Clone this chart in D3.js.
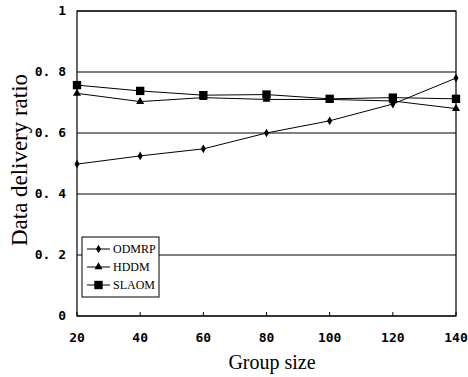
<!DOCTYPE html>
<html>
<head>
<meta charset="utf-8">
<script src="https://cdn.jsdelivr.net/npm/d3@7"></script>
<style>
  body { margin: 0; background: #fff; }
  svg { display: block; }
  .tick-label { font-family: "DejaVu Sans Mono", monospace; font-weight: bold; font-size: 13px; }
  .axis-title { font-family: "Liberation Serif", serif; }
  .legend-text { font-family: "Liberation Serif", serif; font-size: 12px; }
</style>
</head>
<body>
<div id="chart"></div>
<script>
// Group sizes along the bottom
var groupSizes = [20, 40, 60, 80, 100, 120, 140];

// Data delivery ratio per protocol
var odmrp = [0.498, 0.525, 0.548, 0.600, 0.640, 0.695, 0.780];
var hddm  = [0.730, 0.703, 0.716, 0.710, 0.710, 0.705, 0.680];
var slaom = [0.757, 0.738, 0.724, 0.726, 0.712, 0.716, 0.712];

var seriesNames = ["ODMRP", "HDDM", "SLAOM"];
var yTicks = [0, 0.2, 0.4, 0.6, 0.8, 1];

var width = 468, height = 377;
// plot box edges (note: "top" is taken by window.top)
var plotLeft = 77, plotRight = 456, plotTop = 11, plotBottom = 316;

var svg = d3.select("#chart").append("svg")
  .attr("width", width)
  .attr("height", height);

var xScale = d3.scaleLinear().domain([20, 140]).range([plotLeft, plotRight]);
var yScale = d3.scaleLinear().domain([0, 1]).range([plotBottom, plotTop]);

// gridlines
svg.append("g").selectAll("line").data(yTicks).enter()
  .append("line")
  .attr("x1", plotLeft).attr("x2", plotRight)
  .attr("y1", function(d) { return yScale(d); })
  .attr("y2", function(d) { return yScale(d); })
  .attr("stroke", "#000").attr("stroke-width", 1);

// frame
svg.append("rect")
  .attr("x", plotLeft).attr("y", plotTop)
  .attr("width", plotRight - plotLeft).attr("height", plotBottom - plotTop)
  .attr("fill", "none").attr("stroke", "#000").attr("stroke-width", 1.2);

// x ticks
svg.append("g").selectAll("line").data(groupSizes).enter()
  .append("line")
  .attr("x1", function(d) { return xScale(d); })
  .attr("x2", function(d) { return xScale(d); })
  .attr("y1", plotBottom).attr("y2", plotBottom - 4)
  .attr("stroke", "#000");

// y tick labels
svg.append("g").selectAll("text").data(yTicks).enter()
  .append("text")
  .attr("class", "tick-label")
  .attr("x", 66)
  .attr("y", function(d) { return yScale(d) + 4; })
  .attr("text-anchor", "end")
  .text(function(d) { return d === 0 || d === 1 ? d : d3.format(".1f")(d).replace(".", ". "); });

// x tick labels
svg.append("g").selectAll("text").data(groupSizes).enter()
  .append("text")
  .attr("class", "tick-label")
  .attr("x", function(d) { return xScale(d); })
  .attr("y", 342)
  .attr("text-anchor", "middle")
  .text(function(d) { return d; });

// axis titles
svg.append("text").attr("class", "axis-title")
  .attr("x", 272).attr("y", 369)
  .attr("text-anchor", "middle")
  .attr("font-size", 20)
  .text("Group size");

svg.append("text").attr("class", "axis-title")
  .attr("transform", "translate(27,160)rotate(-90)")
  .attr("text-anchor", "middle")
  .attr("font-size", 24)
  .attr("textLength", 172)
  .attr("lengthAdjust", "spacingAndGlyphs")
  .text("Data delivery ratio");

var line = d3.line()
  .x(function(d, i) { return xScale(groupSizes[i]); })
  .y(function(d) { return yScale(d); });

var allSeries = [odmrp, hddm, slaom];
var symbols = [d3.symbolDiamond, d3.symbolTriangle, d3.symbolSquare];
var symSizes = [22, 28, 70];

function drawSeries(vals, k) {
  svg.append("path")
    .attr("d", line(vals))
    .attr("fill", "none")
    .attr("stroke", "#000")
    .attr("stroke-width", 1);
  svg.append("g").selectAll("path").data(vals).enter()
    .append("path")
    .attr("d", d3.symbol().type(symbols[k]).size(symSizes[k]))
    .attr("transform", function(d, i) {
      return "translate(" + xScale(groupSizes[i]) + "," + yScale(d) + ")";
    })
    .attr("fill", "#000");
}
allSeries.forEach(drawSeries);

// legend
var legend = svg.append("g").attr("transform", "translate(82,237)");
legend.append("rect")
  .attr("width", 77).attr("height", 60)
  .attr("fill", "#fff").attr("stroke", "#000").attr("stroke-width", 1);

seriesNames.forEach(function(name, k) {
  var ly = 12 + k * 18;
  legend.append("line")
    .attr("x1", 5).attr("x2", 28)
    .attr("y1", ly).attr("y2", ly)
    .attr("stroke", "#000");
  legend.append("path")
    .attr("d", d3.symbol().type(symbols[k]).size(symSizes[k]))
    .attr("transform", "translate(16.5," + ly + ")")
    .attr("fill", "#000");
  legend.append("text")
    .attr("class", "legend-text")
    .attr("x", 31).attr("y", ly + 4)
    .text(name);
});
</script>
</body>
</html>
